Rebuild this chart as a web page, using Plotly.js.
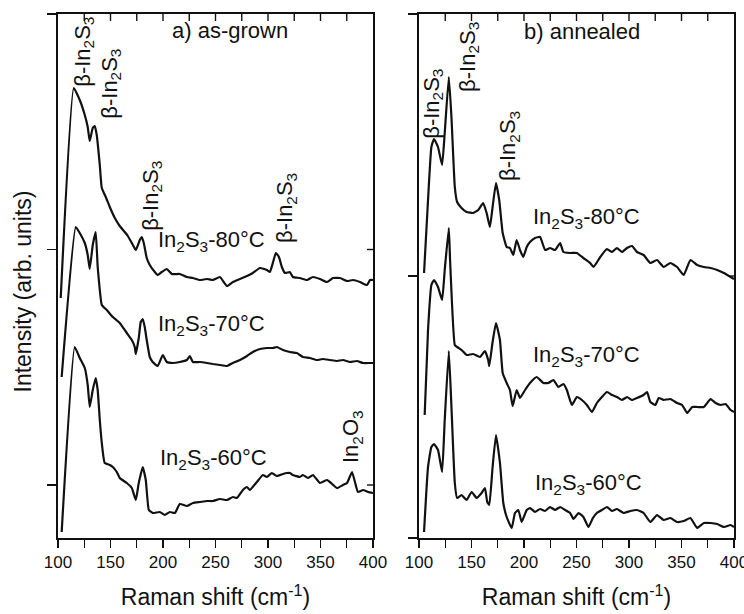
<!DOCTYPE html>
<html>
<head>
<meta charset="utf-8">
<script src="https://cdn.plot.ly/plotly-3.0.1.min.js"></script>
<style>html,body{margin:0;padding:0;background:#fff;}#chart{width:744px;height:614px;}</style>
</head>
<body>
<div id="chart"></div>
<script>
// ---- (a) as-grown spectra: Raman shift (cm-1) and intensity (arb. units) ----
var asGrown80_x = [102.6,115,120.7,125.5,128.3,130.2,133.1,135,136.9,139.8,141.7,145.5,149.3,154.1,158.8,163.6,166.5,171.3,174.1,177.9,179.8,181.7,184.5,187.4,192.2,195,198.8,203.6,208.4,216,222.7,228.5,235.2,241.8,247.5,254.2,260.9,266.6,273.3,280,285.6,292.3,298.9,301.8,304.6,307.5,310.4,313.2,316.1,320.8,323.7,330.4,337.1,342.8,349.5,356.2,361.9,368.6,375.3,381,387.6,394.3,397.2,400];
var asGrown80_y = [240,450,438,423,411,397,410,412,403,373,350,341,331,320,312,306,302,293,288,298,301,295,280,273,266,263,266,269,264,264,261,260,258,259,258,261,252,256,259,262,265,270,268,266,275,285,281,271,265,266,261,260,258,261,259,256,260,260,257,258,256,253,258,258];

var asGrown70_x = [103.5,116.9,120.7,125.5,128.3,130.2,133.1,135.9,137.8,139.8,141.7,146.4,152.2,158.8,165.5,170.3,173.1,174.1,176.9,178.8,180.7,182.6,184.5,187.4,190.2,195,199.8,203.6,209.3,216,222.7,225.5,228.5,235.2,241.8,247.5,254.2,260.9,266.6,273.3,280,285.6,292.3,298.9,304.6,308.5,314.2,320.8,327.5,333.2,339.9,346.5,352.3,359,365.7,371.4,378.1,384.7,390.5,397.2,400];
var asGrown70_y = [161,311,305,295,283,269,293,306,271,248,233,228,221,215,205,198,191,184,200,216,219,211,198,181,176,172,183,176,175,176,178,182,176,176,175,174,173,172,175,178,182,186,189,190,190,191,188,186,185,181,180,178,179,178,177,178,176,177,175,175,175];

var asGrown60_x = [103.5,115.9,120.7,125.5,128.3,130.2,133.1,135.9,137.8,139.8,141.7,144.5,149.3,152.2,156,158.8,165.5,170.3,174.1,176.9,180.7,183.6,186.5,190.3,196.9,201.7,206.5,211.3,216,222.7,228.5,235.2,241.8,247.5,254.2,260.9,266.6,270.4,276.1,280,282.7,289.4,295.1,298.9,303.7,308.5,314.2,318,320.8,323.7,330.4,333.2,338,342.8,349.5,356.2,359,365.7,371.4,375.3,380,382.8,385.7,390.5,395.3,400];
var asGrown60_y = [6,191,180,170,153,131,148,160,148,118,95,75,73,71,66,60,55,50,38,55,71,58,28,25,26,23,26,25,34,32,35,36,37,37,39,38,41,40,48,51,48,56,63,61,65,62,64,65,65,63,61,63,60,63,55,58,56,50,53,55,66,56,46,48,46,45];

// ---- (b) annealed spectra ----
var annealed80_x = [104.8,108.6,111.8,114.3,118.1,122,124.5,128.4,130.9,134.1,136.3,140.5,145.3,151.6,156.4,161.1,164.4,167.5,170.1,173.3,176.4,179.7,183.5,186.6,189.8,193,196.2,199.3,202.6,205.7,210.5,215.3,220.1,224.8,229.6,234.4,237.5,243.9,250.3,256.6,263,266.2,272.6,279,283.8,288.5,293.3,298.1,302.9,307.6,313.9,320.3,326.7,333,339.4,345.8,352.1,358.5,364.9,371.3,377.7,384,390.4,396.8,400];
var annealed80_y = [265,338,391,399,391,373,405,461,421,351,336,330,326,325,328,335,325,311,331,355,338,305,291,290,283,298,288,281,291,296,300,301,288,290,288,295,286,285,285,280,275,271,281,289,286,290,286,290,292,286,283,275,278,271,275,271,263,278,273,271,270,268,265,261,259];

var annealed70_x = [105.4,108.6,111.8,114.3,118.1,122,124.5,128.4,129.6,134.1,136.3,140.5,145.3,151.6,158,162.8,165.9,166.9,170.1,173.3,177.1,179.7,183.5,186.6,189.2,193,196.2,201,205.7,212.1,218.4,223.2,228,232.8,237.5,240.8,245.6,250.3,255.1,259.9,264.7,269.4,274.2,279,283.8,288.5,293.3,298.1,302.9,307.6,313.9,317.2,320.3,325.1,328.3,333,339.4,345.8,350.6,355.4,360.2,364.9,371.3,377.7,382.5,387.3,392,396.8,400];
var annealed70_y = [123,208,253,258,251,238,268,310,278,193,191,188,183,184,181,187,178,172,196,215,198,165,155,148,132,148,140,148,155,161,155,155,158,151,154,148,133,141,138,133,126,135,141,146,143,141,138,141,138,140,143,146,136,133,140,138,139,135,133,125,131,131,131,139,135,133,134,128,126];

var annealed60_x = [104.8,108.6,111.8,114.3,118.1,122,124.5,128.4,130.9,134.1,136.3,140.5,145.3,150.1,154.9,159.6,162.8,165,166.9,170.1,173.3,177.1,180.3,183.5,188.3,191.4,194.6,197.8,202.6,205.7,210.5,215.3,220.1,224.8,229.6,234.4,239.2,243.9,247.1,251.9,256.6,261.4,265.6,269.4,274.2,279,283.8,288.5,294.9,301.3,307.6,313.9,320.3,326.7,333,339.4,345.8,352.1,358.5,364.9,371.3,377.7,384,390.4,396.8,400];
var annealed60_y = [6,71,91,94,88,66,118,187,131,55,40,43,38,46,40,45,50,36,33,71,103,75,35,21,10,25,28,16,28,30,26,29,27,31,28,31,28,25,19,25,21,11,20,25,28,31,27,29,25,27,28,25,16,23,18,20,16,17,20,10,15,15,14,11,13,11];

// ---- axis ticks ----
var xMajorStep = 50, xMinorStep = 25;
var xMinorVals = [125,150,175,200,225,250,275,300,325,350,375];
var yTickValsA = [524,288.5,53];
var yTickValsB = [524,262,0];
var yRange = [0,524];

// ---- labels ----
var b = 'β-In<sub>2</sub>S<sub>3</sub>';
var labelsA = [
  {text:'a) as-grown', x:263.9, y:508, angle:0},
  {text:b, x:124.5, y:486, angle:-90},
  {text:b, x:150.2, y:454, angle:-90},
  {text:b, x:189.4, y:342, angle:-90},
  {text:b, x:317.1, y:330, angle:-90},
  {text:'In<sub>2</sub>S<sub>3</sub>-80°C', x:246.5, y:297, angle:0},
  {text:'In<sub>2</sub>S<sub>3</sub>-70°C', x:246.5, y:213, angle:0},
  {text:'In<sub>2</sub>S<sub>3</sub>-60°C', x:248.4, y:79, angle:0},
  {text:'In<sub>2</sub>O<sub>3</sub>', x:380, y:101, angle:-90}
];
var labelsB = [
  {text:'b) annealed', x:255.5, y:507, angle:0},
  {text:b, x:113.1, y:434, angle:-90},
  {text:b, x:147.5, y:481, angle:-90},
  {text:b, x:185.7, y:392, angle:-90},
  {text:'In<sub>2</sub>S<sub>3</sub>-80°C', x:259.2, y:320, angle:0},
  {text:'In<sub>2</sub>S<sub>3</sub>-70°C', x:259.2, y:182, angle:0},
  {text:'In<sub>2</sub>S<sub>3</sub>-60°C', x:261.1, y:54, angle:0}
];
var yTitle = 'Intensity (arb. units)';
var xTitle = 'Raman shift (cm<sup>-1</sup>)';

var FONT = 'Liberation Sans, Arial, sans-serif';
var INK = '#111111';
var lineStyle = {color: INK, width: 2.2, shape: 'spline', smoothing: 0.4};

function tr(x, y, xa, ya) {
  return {x: x, y: y, xaxis: xa, yaxis: ya, type: 'scatter', mode: 'lines',
          line: lineStyle, hoverinfo: 'skip', showlegend: false};
}

var data = [
  tr(asGrown80_x, asGrown80_y, 'x', 'y'),
  tr(asGrown70_x, asGrown70_y, 'x', 'y'),
  tr(asGrown60_x, asGrown60_y, 'x', 'y'),
  tr(annealed80_x, annealed80_y, 'x2', 'y2'),
  tr(annealed70_x, annealed70_y, 'x2', 'y2'),
  tr(annealed60_x, annealed60_y, 'x2', 'y2')
];

var leftDom = [0, 0.46598];
var rightDom = [0.53402, 1];

function xAxis(dom, anchor) {
  return {
    domain: dom, anchor: anchor, range: [100, 400],
    showgrid: false, zeroline: false,
    showline: true, linecolor: INK, linewidth: 1.6, mirror: true,
    ticks: 'outside', ticklen: 8, tickwidth: 1.4, tickcolor: INK,
    tickmode: 'linear', tick0: 100, dtick: xMajorStep,
    minor: {tickmode: 'linear', tick0: 100, dtick: xMinorStep, ticks: 'outside', ticklen: 8, tickwidth: 1.4, tickcolor: INK, showgrid: false},
    tickfont: {family: FONT, size: 17, color: INK},
    ticklabelstandoff: 0,
    ticklabeloverflow: 'allow',
    title: {text: xTitle, font: {family: FONT, size: 23, color: INK}, standoff: 18},
    automargin: false
  };
}
function yAxis(anchor, vals) {
  return {
    domain: [0, 1], anchor: anchor, range: yRange,
    showgrid: false, zeroline: false,
    showline: true, linecolor: INK, linewidth: 1.6, mirror: true,
    ticks: 'outside', ticklen: 9, tickwidth: 1.4, tickcolor: INK,
    tickmode: 'array', tickvals: vals, showticklabels: false,
    automargin: false
  };
}

var shapes = [];
// inward ticks on the top frame of each panel
xMinorVals.forEach(function (v) {
  ['x', 'x2'].forEach(function (xr) {
    shapes.push({type: 'line', xref: xr, yref: 'paper', ysizemode: 'pixel', yanchor: 1,
                 x0: v, x1: v, y0: 0, y1: -7, line: {color: INK, width: 1.4}});
  });
});
// inward ticks on the right frame of each panel
yTickValsA.slice(1).forEach(function (v) {
  shapes.push({type: 'line', xref: 'paper', yref: 'y', xsizemode: 'pixel', xanchor: leftDom[1],
               x0: 0, x1: -6, y0: v, y1: v, line: {color: INK, width: 1.4}});
});
yTickValsB.slice(1, 2).forEach(function (v) {
  shapes.push({type: 'line', xref: 'paper', yref: 'y2', xsizemode: 'pixel', xanchor: rightDom[1],
               x0: 0, x1: -6, y0: v, y1: v, line: {color: INK, width: 1.4}});
});

function ann(list, xr, yr) {
  return list.map(function (a) {
    return {text: a.text, x: a.x, y: a.y, xref: xr, yref: yr, showarrow: false,
            textangle: a.angle, xanchor: 'center', yanchor: 'middle',
            font: {family: FONT, size: 22, color: INK}};
  });
}

var annotations = ann(labelsA, 'x', 'y').concat(ann(labelsB, 'x2', 'y2'));
// y-axis title (placed as a rotated paper annotation to match the reference position)
annotations.push({text: yTitle, xref: 'paper', yref: 'paper', x: -0.0518, y: 0.4704,
                  textangle: -90, showarrow: false, xanchor: 'center', yanchor: 'middle',
                  font: {family: FONT, size: 23, color: INK}});

var layout = {
  width: 744, height: 614,
  margin: {l: 58, r: 10, t: 14, b: 76, pad: 0},
  paper_bgcolor: '#ffffff', plot_bgcolor: '#ffffff',
  showlegend: false,
  xaxis: xAxis(leftDom, 'y'),
  yaxis: yAxis('x', yTickValsA),
  xaxis2: xAxis(rightDom, 'y2'),
  yaxis2: yAxis('x2', yTickValsB),
  shapes: shapes,
  annotations: annotations
};

Plotly.newPlot('chart', data, layout, {displayModeBar: false, staticPlot: true});
</script>
</body>
</html>
